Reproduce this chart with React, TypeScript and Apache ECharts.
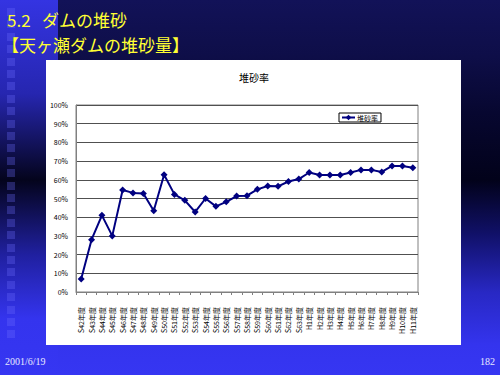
import React, { useEffect, useRef } from "react";
import * as echarts from "echarts";

const categories = [
  "S42年度", "S43年度", "S44年度", "S45年度", "S46年度", "S47年度", "S48年度", "S49年度",
  "S50年度", "S51年度", "S52年度", "S53年度", "S54年度", "S55年度", "S56年度", "S57年度",
  "S58年度", "S59年度", "S60年度", "S61年度", "S62年度", "S63年度",
  "H1年度", "H2年度", "H3年度", "H4年度", "H5年度", "H6年度", "H7年度", "H8年度",
  "H9年度", "H10年度", "H11年度",
];

const sedimentRate = [
  7, 28, 41, 30, 54.5, 53, 52.7, 43.5, 62.7, 52.2, 49, 42.8, 50, 45.8, 48.2, 51.3,
  51.5, 54.9, 56.7, 56.5, 59.1, 60.4, 63.9, 62.6, 62.6, 62.6, 63.9, 65.3, 65.3, 64.2,
  67.4, 67.4, 66.5,
];

const seriesName = "堆砂率";
const chartTitle = "堆砂率";
const slideTitleNum = "5.2";
const slideTitle1 = "ダムの堆砂";
const slideTitle2 = "【天ヶ瀬ダムの堆砂量】";
const footerDate = "2001/6/19";
const footerPage = "182";

const CJK = '"Noto Sans CJK JP", sans-serif';

export default function App() {
  const ref = useRef<HTMLDivElement>(null);

  useEffect(() => {
    if (!ref.current) return;
    const chart = echarts.init(ref.current, undefined, { renderer: "svg" });
    chart.setOption({
      animation: false,
      backgroundColor: "transparent",
      graphic: [
        {
          type: "text",
          x: 7,
          y: 19.5,
          style: {
            text: slideTitleNum,
            fill: "#ffff33",
            font: `17px ${CJK}`,
            textVerticalAlign: "middle",
          },
        },
        {
          type: "text",
          x: 42,
          y: 19.5,
          style: {
            text: slideTitle1,
            fill: "#ffff33",
            font: `17px ${CJK}`,
            textVerticalAlign: "middle",
          },
        },
        {
          type: "text",
          x: 2,
          y: 44.5,
          style: {
            text: slideTitle2,
            fill: "#ffff33",
            font: `17px ${CJK}`,
            textVerticalAlign: "middle",
          },
        },
        {
          type: "text",
          x: 254,
          y: 77,
          style: {
            text: chartTitle,
            fill: "#000",
            font: `10px ${CJK}`,
            textAlign: "center",
            textVerticalAlign: "middle",
          },
        },
        {
          type: "text",
          left: 5,
          top: 356,
          style: { text: footerDate, fill: "#e8e8ff", font: '10px "Liberation Serif", serif' },
        },
        {
          type: "text",
          right: 5,
          top: 356,
          style: { text: footerPage, fill: "#e8e8ff", font: '10px "Liberation Serif", serif' },
        },
      ],
      legend: {
        data: [seriesName],
        left: 339,
        top: 113,
        itemWidth: 13,
        itemHeight: 7,
        itemGap: 2,
        padding: [1, 3, 1, 2],
        borderColor: "#000",
        borderWidth: 1,
        backgroundColor: "#fff",
        textStyle: { fontSize: 7, color: "#000", fontFamily: CJK, padding: [0, 0, 0, -3] },
      },
      grid: {
        left: 76,
        top: 105,
        right: 82,
        bottom: 83,
        show: true,
        borderColor: "#808080",
        borderWidth: 1,
        backgroundColor: "transparent",
      },
      xAxis: {
        type: "category",
        data: categories,
        boundaryGap: true,
        axisLine: { show: true, lineStyle: { color: "#808080", width: 1 } },
        axisTick: { show: true, length: 3, lineStyle: { color: "#808080" } },
        axisLabel: {
          interval: 0,
          rotate: 90,
          fontSize: 7,
          color: "#000",
          fontFamily: CJK,
          margin: 15,
        },
        splitLine: { show: false },
      },
      yAxis: {
        type: "value",
        min: 0,
        max: 100,
        interval: 10,
        axisLine: { show: true, lineStyle: { color: "#808080", width: 1 } },
        axisTick: { show: false },
        axisLabel: {
          formatter: "{value}%",
          fontSize: 7,
          color: "#000",
          fontFamily: CJK,
          margin: 8,
        },
        splitLine: { show: true, lineStyle: { color: "#505050", width: 1 } },
      },
      series: [
        {
          name: seriesName,
          type: "line",
          data: sedimentRate,
          symbol: "diamond",
          symbolSize: 7,
          color: "#000080",
          lineStyle: { color: "#000080", width: 2 },
          itemStyle: { color: "#000080" },
        },
      ],
    });
    return () => chart.dispose();
  }, []);

  const squares = [];
  for (let i = 0; i < 27; i++) {
    squares.push(
      <div
        key={i}
        style={{
          position: "absolute",
          left: 7,
          top: 8 + i * 12.4,
          width: 8,
          height: 8,
          background: "rgba(110,110,255,0.3)",
        }}
      />
    );
  }

  return (
    <div
      style={{
        position: "absolute",
        left: 0,
        top: 0,
        width: 500,
        height: 375,
        overflow: "hidden",
      }}
    >
      <div
        style={{
          position: "absolute",
          left: 0,
          top: 0,
          width: 500,
          height: 375,
          background:
            "linear-gradient(to bottom, #121258 0%, #0e0e48 15%, #070730 30%, #02021a 48%, #101066 62%, #2828c4 78%, #3434ee 92%, #3636f2 100%)",
        }}
      />
      <div
        style={{
          position: "absolute",
          left: 0,
          top: 0,
          width: 58,
          height: 375,
          background:
            "linear-gradient(to bottom, #3434e2 0%, #2626b0 25%, #04041c 48%, #2020a0 68%, #3434ee 85%, #3636f2 100%)",
        }}
      />
      {squares}
      <div
        style={{
          position: "absolute",
          left: 46,
          top: 60,
          width: 415,
          height: 285,
          background: "#ffffff",
        }}
      />
      <div
        ref={ref}
        style={{ position: "absolute", left: 0, top: 0, width: 500, height: 375 }}
      />
    </div>
  );
}
